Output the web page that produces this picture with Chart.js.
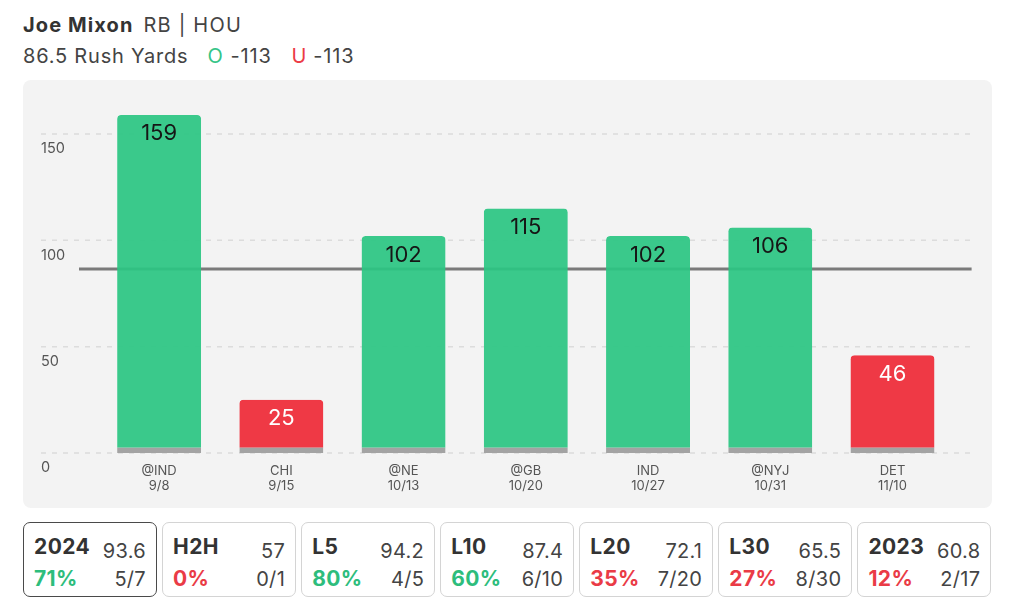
<!DOCTYPE html>
<html lang="en">
<head>
  <meta charset="UTF-8">
  <title>Joe Mixon Rush Yards</title>
  <script src="https://cdn.jsdelivr.net/npm/chart.js"></script>
  <style>
    * { box-sizing: border-box; }
    body {
      margin: 0;
      width: 1024px;
      height: 606px;
      position: relative;
      background: #fff;
      font-family: Inter, "Open Sans", sans-serif;
      color: #333;
      overflow: hidden;
    }
    .line1, .line2 {
      position: absolute;
      left: 23px;
      font-size: 20px;
      line-height: 20px;
      white-space: nowrap;
    }
    .line1 { top: 14.5px; }
    .line1 b { font-weight: 700; color: #333; letter-spacing: 1.1px; }
    .line1 span { margin-left: 10px; color: #444; letter-spacing: 1.2px; }
    .line2 { top: 45.5px; color: #444; letter-spacing: 0.8px; }
    .line2 .o { color: #34c487; margin-left: 19px; margin-right: 7px; }
    .line2 .u { color: #ec3b46; margin-left: 20px; margin-right: 6px; }
    #panel {
      position: absolute;
      left: 23px;
      top: 80px;
      width: 969px;
      height: 428px;
      background: #f3f3f3;
      border-radius: 8px;
    }
    .box {
      position: absolute;
      top: 522px;
      width: 134px;
      height: 75px;
      border: 1px solid #d4d4d4;
      border-radius: 7px;
      background: #fff;
    }
    .box.active { border: 1.5px solid #4a4a4a; }
    .box span { position: absolute; line-height: 1; white-space: nowrap; }
    .box .name { left: 10px; top: 13px; font-size: 21px; font-weight: 700; color: #333; letter-spacing: 0.4px; }
    .box .avg { right: 10px; top: 17.5px; font-size: 20px; color: #444; letter-spacing: 0.3px; }
    .box .pct { left: 10px; top: 45px; font-size: 21px; font-weight: 700; letter-spacing: 0.4px; }
    .box .hit { right: 10px; top: 45.5px; font-size: 20px; color: #444; letter-spacing: 0.3px; }
  </style>
</head>
<body>
  <div class="line1"><b>Joe Mixon</b><span>RB | HOU</span></div>
  <div class="line2">86.5 Rush Yards<span class="o">O</span>-113<span class="u">U</span>-113</div>

  <div id="panel"><canvas id="chart" width="969" height="428"></canvas></div>
  <div id="boxes"></div>

  <script>
    // game log
    const games = [['@IND', '9/8'], ['CHI', '9/15'], ['@NE', '10/13'], ['@GB', '10/20'], ['IND', '10/27'], ['@NYJ', '10/31'], ['DET', '11/10']];
    const rushYards = [159, 25, 102, 115, 102, 106, 46];
    const propLine = 86.5;
    const yTicks = [0, 50, 100, 150];

    // split summary boxes
    const splitNames = ['2024', 'H2H', 'L5', 'L10', 'L20', 'L30', '2023'];
    const splitAvg = ['93.6', '57', '94.2', '87.4', '72.1', '65.5', '60.8'];
    const splitPct = [71, 0, 80, 60, 35, 27, 12];
    const splitHits = ['5/7', '0/1', '4/5', '6/10', '7/20', '8/30', '2/17'];

    const GREEN = 'rgba(42, 197, 130, 0.92)';
    const RED = 'rgba(238, 45, 57, 0.94)';

    // build boxes
    const boxes = document.getElementById('boxes');
    splitNames.forEach((name, i) => {
      const box = document.createElement('div');
      box.className = 'box' + (i === 0 ? ' active' : '');
      box.style.left = (23 + i * 139.07) + 'px';
      const color = splitPct[i] >= 50 ? '#2dbd7c' : '#ea3b46';
      box.innerHTML =
        '<span class="name">' + name + '</span>' +
        '<span class="avg">' + splitAvg[i] + '</span>' +
        '<span class="pct" style="color:' + color + '">' + splitPct[i] + '%</span>' +
        '<span class="hit">' + splitHits[i] + '</span>';
      boxes.appendChild(box);
    });

    // dashed grid running past the plot area, the prop line, and value labels
    const guides = {
      id: 'guides',
      beforeDatasetsDraw(chart) {
        const { ctx, chartArea, scales: { y } } = chart;
        ctx.save();
        ctx.strokeStyle = '#dcdcdc';
        ctx.lineWidth = 1.5;
        ctx.setLineDash([5, 6]);
        y.ticks.forEach(t => {
          const py = y.getPixelForValue(t.value);
          ctx.beginPath();
          ctx.moveTo(chartArea.left - 57, py);
          ctx.lineTo(chartArea.right + 21, py);
          ctx.stroke();
        });
        ctx.setLineDash([]);
        ctx.strokeStyle = '#7a7a7a';
        ctx.lineWidth = 3;
        const ly = y.getPixelForValue(propLine);
        ctx.beginPath();
        ctx.moveTo(chartArea.left - 19, ly);
        ctx.lineTo(chartArea.right + 18, ly);
        ctx.stroke();
        ctx.restore();
      },
      afterDatasetsDraw(chart) {
        const { ctx } = chart;
        const meta = chart.getDatasetMeta(0);
        ctx.save();
        ctx.font = '22px Inter';
        ctx.textAlign = 'center';
        ctx.textBaseline = 'alphabetic';
        meta.data.forEach((bar, i) => {
          ctx.fillStyle = rushYards[i] > propLine ? '#161616' : '#ffffff';
          ctx.fillText(String(rushYards[i]), bar.x, bar.y + 25.5);
        });
        ctx.restore();
      }
    };

    new Chart(document.getElementById('chart'), {
      type: 'bar',
      data: {
        labels: games,
        datasets: [{
          data: rushYards,
          backgroundColor: rushYards.map(v => v > propLine ? GREEN : RED),
          borderColor: '#a3a3a3',
          borderWidth: { top: 0, left: 0, right: 0, bottom: 7 },
          borderSkipped: false,
          borderRadius: { topLeft: 4, topRight: 4, bottomLeft: 0, bottomRight: 0 },
          base: -0.7,
          categoryPercentage: 1,
          barPercentage: 0.687
        }]
      },
      options: {
        responsive: false,
        animation: false,
        layout: { padding: { left: 18, right: 38.4, top: 11.5, bottom: 10 } },
        plugins: { legend: { display: false }, tooltip: { enabled: false } },
        scales: {
          x: {
            grid: { display: false },
            border: { display: false },
            ticks: {
              font: { family: 'Inter', size: 13, lineHeight: 1.15 },
              color: '#555',
              padding: 3,
              maxRotation: 0,
              autoSkip: false
            },
            afterFit: s => { s.height = 45; }
          },
          y: {
            min: 0,
            max: 170,
            grid: { display: false },
            border: { display: false },
            afterBuildTicks: s => { s.ticks = yTicks.map(v => ({ value: v })); },
            ticks: {
              font: { family: 'Inter', size: 14.5 },
              color: '#555',
              crossAlign: 'far',
              labelOffset: 15,
              padding: 0
            },
            afterFit: s => { s.width = 57; }
          }
        }
      },
      plugins: [guides]
    });
  </script>
</body>
</html>
